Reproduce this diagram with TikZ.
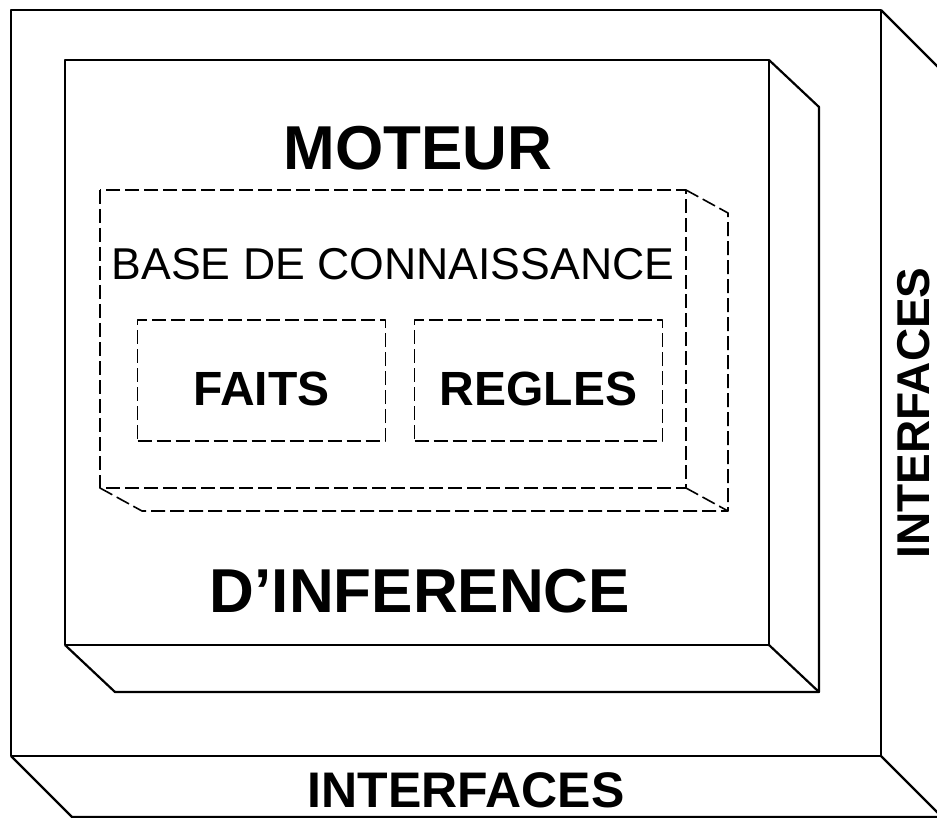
\documentclass[tikz,border=0pt]{standalone}
\usepackage{fontspec}
\setmainfont{Liberation Sans}
\usetikzlibrary{calc}

\begin{document}
\begin{tikzpicture}
    [x=0.5pt,y=-0.5pt,
      wall/.style={draw,line width=1.1pt,line join=round},
      dash wall/.style={draw,line width=0.8pt,dash pattern=on 7pt off 2.5pt,line join=round},
      title/.style={inner sep=0pt,anchor=base,font=\fontsize{31}{31}\selectfont\bfseries},
      part/.style={dash wall,inner sep=0pt,minimum width=124pt,minimum height=60.5pt,
          text height=25pt,text depth=0pt,font=\fontsize{24}{24}\selectfont\bfseries},
      side/.style={inner sep=0pt,anchor=base,font=\fontsize{25}{25}\selectfont\bfseries}
    ]
    \useasboundingbox (0,0) rectangle (937,818);

    % interfaces (outer block)
    \draw [wall] (11,10) rectangle (881,756);
    \draw [wall] (881,10) -- (942,71) -- (942,817) -- (881,756);
    \draw [wall] (11,756) -- (72,817) -- (942,817);

    % moteur d'inference
    \draw [wall] (65,60) rectangle (769,645);
    \draw [wall] (769,60) -- (819,107) -- (819,692) -- (769,645);
    \draw [wall] (65,645) -- (115,692) -- (819,692);

    % base de connaissance
    \draw [dash wall] (100,190) rectangle (686,488);
    \draw [dash wall] (686,190) -- (728,213) -- (728,511) -- (686,488);
    \draw [dash wall] (100,488) -- (142,511) -- (728,511);

    \node [title] (moteur) at (418,170) {MOTEUR};
    \node [title] (inference) at (420,612) {D'INFERENCE};
    \node [inner sep=0pt,anchor=base,font=\fontsize{22.3}{22.3}\selectfont] (base) at (393,280) {BASE DE CONNAISSANCE};
    \node [part] (faits) at (261.5,380.5) {FAITS};
    \node [part] (regles) at (538.5,380.5) {REGLES};

    \node [side] (interfaces bas) at (466,807) {INTERFACES};
    \node [side,rotate=90,font=\fontsize{23}{23}\selectfont\bfseries] (interfaces droite) at (929,413) {INTERFACES};
  \end{tikzpicture}
\end{document}
